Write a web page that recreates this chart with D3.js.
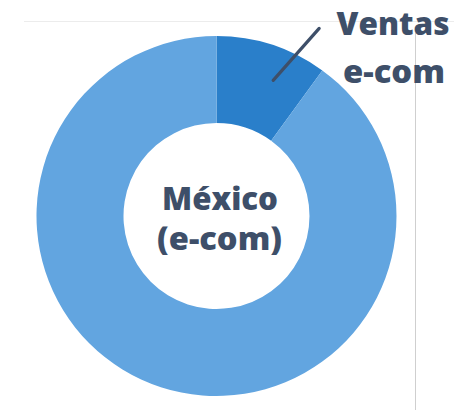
<!DOCTYPE html>
<html>
<head>
<meta charset="utf-8">
<script src="https://cdn.jsdelivr.net/npm/d3@7"></script>
<style>
  body { margin: 0; background: #fff; }
  text { font-family: "Open Sans", "Noto Sans", sans-serif; font-weight: 800; fill: #3e4f69; }
</style>
</head>
<body>
<div id="chart"></div>
<script>
// slices of the donut (percent of total)
var categories = ["Ventas e-com", "Resto"];
var values = [10, 90];
var colors = ["#2a7fca", "#62a5e0"];
var centerLabel = ["México", "(e-com)"];
var sliceLabel = ["Ventas", "e-com"];

var W = 454, H = 410;
var cx = 216.5, cy = 216, outerR = 180, innerR = 93;

var svg = d3.select("#chart")
    .append("svg")
    .attr("width", W)
    .attr("height", H);

// light frame lines
svg.append("line")
  .attr("x1", 24).attr("x2", W)
  .attr("y1", 21.5).attr("y2", 21.5)
  .attr("stroke", "#ececec").attr("stroke-width", 1.2);

svg.append("line")
  .attr("x1", 415.5).attr("x2", 415.5)
  .attr("y1", 33).attr("y2", H)
  .attr("stroke", "#cfcfcf").attr("stroke-width", 1);

var pie = d3.pie().sort(null).value(function(d) { return d; });
var arc = d3.arc().innerRadius(innerR).outerRadius(outerR);

var g = svg.append("g").attr("transform", "translate(" + cx + "," + cy + ")");

var arcs = pie(values);

g.selectAll("path")
  .data(arcs)
  .enter().append("path")
    .attr("d", arc)
    .attr("fill", function(d, i) { return colors[i]; });

// leader line from the small slice out to its label
var a0 = arcs[0].startAngle + (arcs[0].endAngle - arcs[0].startAngle) * 0.63;
var r0 = 147;
var sx = Math.sin(a0) * r0, sy = -Math.cos(a0) * r0;
g.append("line")
  .attr("x1", sx).attr("y1", sy)
  .attr("x2", sx + 46).attr("y2", sy - 52)
  .attr("stroke", "#3e4f69").attr("stroke-width", 3.2)
  .attr("stroke-linecap", "round");

svg.selectAll(".slabel")
  .data(sliceLabel)
  .enter().append("text")
    .attr("class", "slabel")
    .attr("x", function(d, i) { return i ? 394 : 393; })
    .attr("y", function(d, i) { return 35 + i * 48; })
    .attr("text-anchor", "middle")
    .attr("font-size", 32)
    .attr("textLength", function(d, i) { return i ? 102 : 113; })
    .attr("lengthAdjust", "spacingAndGlyphs")
    .text(function(d) { return d; });

svg.selectAll(".clabel")
  .data(centerLabel)
  .enter().append("text")
    .attr("class", "clabel")
    .attr("x", function(d, i) { return i ? 219.5 : 220; })
    .attr("y", function(d, i) { return 210 + i * 40; })
    .attr("text-anchor", "middle")
    .attr("font-size", 32)
    .attr("textLength", function(d, i) { return i ? 125 : 116; })
    .attr("lengthAdjust", "spacingAndGlyphs")
    .text(function(d) { return d; });
</script>
</body>
</html>
